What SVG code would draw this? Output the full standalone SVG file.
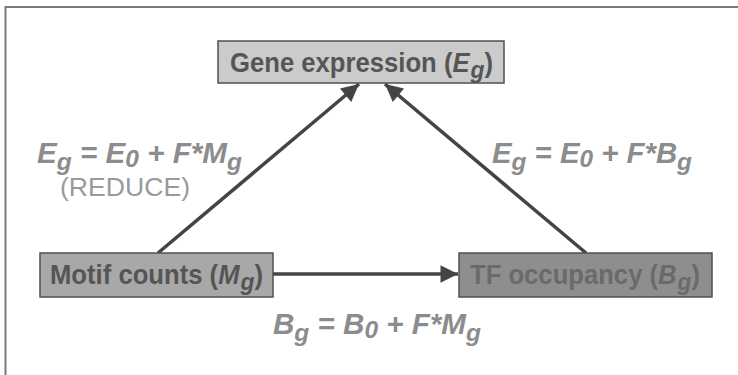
<svg xmlns="http://www.w3.org/2000/svg" width="738" height="375" viewBox="0 0 738 375">
<defs>
<style>
.box{stroke:#505050;stroke-width:1.5}
.lbl{font-family:"Liberation Sans",Arial,sans-serif;font-weight:bold;font-size:27px}
.eq{font-family:"Liberation Sans",Arial,sans-serif;font-weight:bold;font-style:italic;font-size:29px;fill:#8c8c8c}
.sub{font-size:24px}
.conn{stroke:#444;stroke-width:3.5;fill:none}
</style>
<marker id="ah" viewBox="0 0 10 10" refX="10" refY="5" markerWidth="5.5" markerHeight="5" markerUnits="strokeWidth" orient="auto">
<path d="M0,0 L10,5 L0,10 Z" fill="#444"/>
</marker>
</defs>
<rect width="738" height="375" fill="#ffffff"/>
<path d="M5.5,375 V7 H738" fill="none" stroke="#7a7a7a" stroke-width="2"/>

<g id="connectors">
<line class="conn" x1="158" y1="253" x2="359" y2="84" marker-end="url(#ah)"/>
<line class="conn" x1="586" y1="253" x2="385" y2="84" marker-end="url(#ah)"/>
<line class="conn" x1="273" y1="274" x2="458" y2="274" marker-end="url(#ah)"/>
</g>

<g id="gene">
<rect class="box" x="218" y="41" width="286" height="42" fill="#cbcbcb"/>
<text class="lbl" x="230" y="72" fill="#555" textLength="263" lengthAdjust="spacingAndGlyphs">Gene expression (<tspan font-style="italic">E</tspan><tspan font-style="italic" class="sub" dx="1" dy="6">g</tspan><tspan dy="-6">)</tspan></text>
</g>

<g id="motif">
<rect class="box" x="40" y="253" width="233" height="44" fill="#a8a8a8"/>
<text class="lbl" x="50" y="284" fill="#555" textLength="213" lengthAdjust="spacingAndGlyphs">Motif counts (<tspan font-style="italic">M</tspan><tspan font-style="italic" class="sub" dx="1" dy="6">g</tspan><tspan dy="-6">)</tspan></text>
</g>

<g id="tf">
<rect class="box" x="459" y="253" width="253" height="44" fill="#8e8e8e"/>
<text class="lbl" x="470" y="284" fill="#6a6a6a" textLength="230" lengthAdjust="spacingAndGlyphs">TF occupancy (<tspan font-style="italic">B</tspan><tspan font-style="italic" class="sub" dx="1" dy="6">g</tspan><tspan dy="-6">)</tspan></text>
</g>

<g id="labels">
<text class="eq" x="37" y="163" textLength="205" lengthAdjust="spacingAndGlyphs">E<tspan class="sub" dy="7">g</tspan><tspan dy="-7"> = E</tspan><tspan class="sub" dy="4">0</tspan><tspan dy="-4"> + F*M</tspan><tspan class="sub" dy="7">g</tspan></text>
<text x="60" y="196" font-family="Liberation Sans,Arial,sans-serif" font-size="25" fill="#9a9a9a" textLength="130" lengthAdjust="spacingAndGlyphs">(REDUCE)</text>
<text class="eq" x="492" y="163" textLength="200" lengthAdjust="spacingAndGlyphs">E<tspan class="sub" dy="7">g</tspan><tspan dy="-7"> = E</tspan><tspan class="sub" dy="4">0</tspan><tspan dy="-4"> + F*B</tspan><tspan class="sub" dy="7">g</tspan></text>
<text class="eq" x="273" y="334" textLength="208" lengthAdjust="spacingAndGlyphs">B<tspan class="sub" dy="7">g</tspan><tspan dy="-7"> = B</tspan><tspan class="sub" dy="4">0</tspan><tspan dy="-4"> + F*M</tspan><tspan class="sub" dy="7">g</tspan></text>
</g>
</svg>
